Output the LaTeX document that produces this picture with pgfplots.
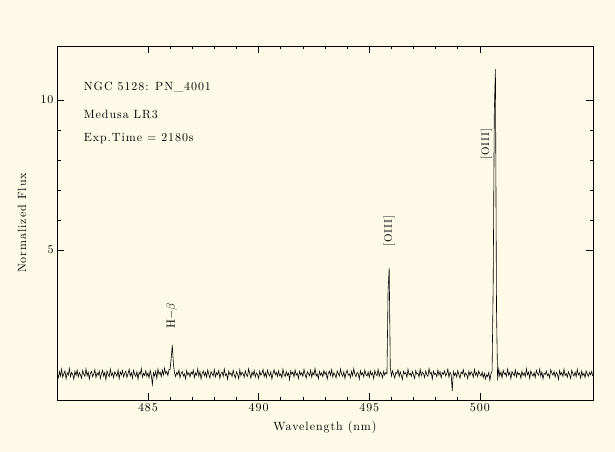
\documentclass[border=0pt]{standalone}
\usepackage{fontspec}
\setmainfont{lmroman10-regular.otf}[LetterSpace=8]
\usepackage{pgfplots}
\pgfplotsset{compat=1.18}
\definecolor{cream}{RGB}{253,251,231}
\newcommand\pgfnt{\fontsize{12}{14}\selectfont}
\newcommand\pgfsm{\fontsize{11}{13}\selectfont}
\begin{document}
\begin{tikzpicture}
\path[fill=cream] (0,0) rectangle (615bp,452bp);
\begin{axis}[
  scale only axis, width=536bp, height=354bp,
  at={(57bp,52bp)}, anchor=south west,
  xmin=480.89, xmax=505.11, ymin=0, ymax=11.8,
  xtick={485,490,495,500}, minor x tick num=4,
  ytick={5,10}, minor y tick num=4,
  tick align=inside,
  xtick pos=both, ytick pos=both,
  xticklabel pos=lower, yticklabel pos=left,
  major tick length=7bp, minor tick length=3.5bp,
  every tick/.style={black, line width=0.6pt},
  axis line style={line width=0.8pt},
  /pgf/number format/assume math mode=true,
  /pgf/number format/1000 sep={},
  tick label style={font=\pgfnt},
  label style={font=\pgfnt},
  xlabel={Wavelength (nm)}, ylabel={Normalized Flux},
  xlabel style={at={(axis description cs:0.5,-0.079)}, anchor=center},
  ylabel style={at={(axis description cs:-0.0653,0.5)}, anchor=center},
  axis background/.style={fill=cream},
]
\addplot[black, line width=0.6pt] coordinates {
(480.90,0.86)(480.95,0.74)
(481.00,0.95)(481.05,0.80)(481.10,1.02)(481.15,0.76)(481.20,0.88)(481.25,0.97)(481.30,0.71)(481.35,0.90)(481.40,0.83)(481.45,1.05)
(481.50,0.78)(481.55,0.92)(481.60,0.85)(481.65,0.69)(481.70,0.96)(481.75,0.82)(481.80,1.00)(481.85,0.77)(481.90,0.91)(481.95,0.84)
(482.00,0.73)(482.05,0.98)(482.10,0.86)(482.15,0.79)(482.20,1.04)(482.25,0.81)(482.30,0.93)(482.35,0.70)(482.40,0.89)(482.45,0.95)
(482.50,0.78)(482.55,0.87)(482.60,1.01)(482.65,0.75)(482.70,0.90)(482.75,0.83)(482.80,0.96)(482.85,0.72)(482.90,0.88)(482.95,0.99)
(483.00,0.80)(483.05,0.92)(483.10,0.68)(483.15,0.97)(483.20,0.85)(483.25,0.78)(483.30,1.03)(483.35,0.82)(483.40,0.90)(483.45,0.74)
(483.50,0.94)(483.55,0.87)(483.60,0.79)(483.65,1.00)(483.70,0.71)(483.75,0.93)(483.80,0.84)(483.85,0.98)(483.90,0.77)(483.95,0.89)
(484.00,0.96)(484.05,0.75)(484.10,0.88)(484.15,1.02)(484.20,0.80)(484.25,0.91)(484.30,0.73)(484.35,0.99)(484.40,0.85)(484.45,0.78)
(484.50,0.94)(484.55,0.70)(484.60,0.92)(484.65,0.86)(484.70,1.05)(484.75,0.76)(484.80,0.89)(484.85,0.82)(484.90,0.97)(484.95,0.79)
(485.00,0.90)(485.05,0.74)(485.10,0.98)(485.15,0.83)(485.20,0.52)(485.25,0.91)(485.30,0.80)(485.35,0.96)(485.40,0.72)(485.45,1.03)
(485.50,0.86)(485.55,0.93)(485.60,0.78)(485.65,0.99)(485.70,0.84)(485.75,1.06)(485.80,0.88)(485.85,0.95)(485.90,0.82)(485.95,1.01)
(486.00,1.02)(486.05,1.40)(486.10,1.83)(486.15,1.20)(486.20,0.90)(486.25,0.78)(486.30,0.92)(486.35,0.85)(486.40,1.00)(486.45,0.74)
(486.50,0.89)(486.55,0.95)(486.60,0.80)(486.65,0.87)(486.70,0.71)(486.75,0.98)(486.80,0.84)(486.85,0.91)(486.90,0.77)(486.95,0.93)
(487.00,0.86)(487.05,0.99)(487.10,0.75)(487.15,0.90)(487.20,0.83)(487.25,1.04)(487.30,0.79)(487.35,0.94)(487.40,0.70)(487.45,0.88)
(487.50,0.97)(487.55,0.81)(487.60,0.92)(487.65,0.76)(487.70,1.00)(487.75,0.85)(487.80,0.73)(487.85,0.95)(487.90,0.87)(487.95,0.80)
(488.00,1.01)(488.05,0.77)(488.10,0.91)(488.15,0.84)(488.20,0.98)(488.25,0.72)(488.30,0.89)(488.35,0.93)(488.40,0.79)(488.45,1.03)
(488.50,0.82)(488.55,0.87)(488.60,0.69)(488.65,0.96)(488.70,0.85)(488.75,0.90)(488.80,0.78)(488.85,0.99)(488.90,0.83)(488.95,0.74)
(489.00,0.94)(489.05,0.86)(489.10,0.71)(489.15,1.00)(489.20,0.81)(489.25,0.92)(489.30,0.88)(489.35,0.76)(489.40,0.97)(489.45,0.84)
(489.50,0.79)(489.55,1.04)(489.60,0.87)(489.65,0.73)(489.70,0.93)(489.75,0.82)(489.80,0.98)(489.85,0.77)(489.90,0.90)(489.95,0.85)
(490.00,0.72)(490.05,0.96)(490.10,0.83)(490.15,0.89)(490.20,1.02)(490.25,0.78)(490.30,0.91)(490.35,0.75)(490.40,0.99)(490.45,0.86)
(490.50,0.80)(490.55,0.94)(490.60,0.70)(490.65,0.88)(490.70,1.01)(490.75,0.84)(490.80,0.92)(490.85,0.79)(490.90,0.97)(490.95,0.81)
(491.00,0.87)(491.05,0.74)(491.10,1.03)(491.15,0.85)(491.20,0.78)(491.25,0.95)(491.30,0.82)(491.35,0.90)(491.40,0.68)(491.45,0.97)
(491.50,0.86)(491.55,0.93)(491.60,0.77)(491.65,1.00)(491.70,0.83)(491.75,0.89)(491.80,0.72)(491.85,0.96)(491.90,0.84)(491.95,0.91)
(492.00,0.79)(492.05,1.02)(492.10,0.85)(492.15,0.73)(492.20,0.94)(492.25,0.88)(492.30,0.81)(492.35,0.99)(492.40,0.76)(492.45,0.92)
(492.50,0.84)(492.55,1.05)(492.60,0.80)(492.65,0.87)(492.70,0.71)(492.75,0.95)(492.80,0.83)(492.85,0.90)(492.90,0.78)(492.95,0.98)
(493.00,0.85)(493.05,0.93)(493.10,0.70)(493.15,0.89)(493.20,0.96)(493.25,0.82)(493.30,1.01)(493.35,0.77)(493.40,0.91)(493.45,0.84)
(493.50,0.74)(493.55,0.97)(493.60,0.88)(493.65,0.80)(493.70,1.03)(493.75,0.86)(493.80,0.79)(493.85,0.94)(493.90,0.72)(493.95,0.90)
(494.00,0.99)(494.05,0.83)(494.10,0.87)(494.15,0.75)(494.20,0.95)(494.25,0.81)(494.30,1.04)(494.35,0.86)(494.40,0.78)(494.45,0.92)
(494.50,0.89)(494.55,0.70)(494.60,0.97)(494.65,0.84)(494.70,0.91)(494.75,0.77)(494.80,1.00)(494.85,0.85)(494.90,0.80)(494.95,0.93)
(495.00,0.76)(495.05,0.96)(495.10,0.84)(495.15,0.90)(495.20,0.71)(495.25,0.98)(495.30,0.86)(495.35,0.81)(495.40,1.02)(495.45,0.79)
(495.50,0.93)(495.55,0.87)(495.60,0.74)(495.65,0.95)(495.70,0.83)(495.75,0.91)(495.80,0.88)(495.85,3.63)(495.90,4.40)(495.95,1.10)
(496.00,0.80)(496.05,0.97)(496.10,0.85)(496.15,0.73)(496.20,0.92)(496.25,0.88)(496.30,1.01)(496.35,0.78)(496.40,0.94)(496.45,0.82)
(496.50,0.69)(496.55,0.96)(496.60,0.87)(496.65,0.91)(496.70,0.76)(496.75,1.03)(496.80,0.84)(496.85,0.89)(496.90,0.79)(496.95,0.95)
(497.00,0.83)(497.05,0.72)(497.10,0.98)(497.15,0.86)(497.20,0.90)(497.25,0.77)(497.30,1.02)(497.35,0.81)(497.40,0.93)(497.45,0.88)
(497.50,0.75)(497.55,0.97)(497.60,0.84)(497.65,0.79)(497.70,1.05)(497.75,0.87)(497.80,0.92)(497.85,0.70)(497.90,0.96)(497.95,0.85)
(498.00,0.89)(498.05,0.78)(498.10,1.00)(498.15,0.83)(498.20,0.94)(498.25,0.74)(498.30,0.91)(498.35,0.86)(498.40,0.97)(498.45,0.80)
(498.50,0.88)(498.55,1.03)(498.60,0.76)(498.65,0.92)(498.70,0.85)(498.75,0.30)(498.80,0.95)(498.85,0.82)(498.90,0.90)(498.95,0.77)
(499.00,0.98)(499.05,0.84)(499.10,0.73)(499.15,0.93)(499.20,0.87)(499.25,1.01)(499.30,0.79)(499.35,0.90)(499.40,0.85)(499.45,0.71)
(499.50,0.96)(499.55,0.82)(499.60,0.94)(499.65,0.88)(499.70,0.76)(499.75,1.02)(499.80,0.83)(499.85,0.91)(499.90,0.78)(499.95,0.97)
(500.00,0.86)(500.05,0.80)(500.10,0.93)(500.15,0.75)(500.20,0.89)(500.25,0.70)(500.30,0.84)(500.35,0.78)(500.40,0.92)(500.45,0.66)
(500.50,0.88)(500.55,0.97)(500.60,3.87)(500.65,9.57)(500.70,11.03)(500.75,3.00)(500.80,0.65)(500.85,1.04)(500.90,0.80)(500.95,0.93)
(501.00,0.74)(501.05,0.99)(501.10,0.86)(501.15,0.90)(501.20,0.79)(501.25,1.03)(501.30,0.83)(501.35,0.92)(501.40,0.71)(501.45,0.95)
(501.50,0.87)(501.55,0.81)(501.60,1.00)(501.65,0.77)(501.70,0.93)(501.75,0.85)(501.80,0.89)(501.85,0.73)(501.90,0.96)(501.95,0.82)
(502.00,0.90)(502.05,0.78)(502.10,1.04)(502.15,0.84)(502.20,0.93)(502.25,0.72)(502.30,0.97)(502.35,0.86)(502.40,0.80)(502.45,0.91)
(502.50,0.75)(502.55,0.99)(502.60,0.88)(502.65,0.83)(502.70,1.02)(502.75,0.79)(502.80,0.94)(502.85,0.70)(502.90,0.89)(502.95,0.85)
(503.00,0.96)(503.05,0.81)(503.10,0.87)(503.15,0.74)(503.20,1.01)(503.25,0.90)(503.30,0.83)(503.35,0.95)(503.40,0.77)(503.45,0.92)
(503.50,0.86)(503.55,0.69)(503.60,0.98)(503.65,0.84)(503.70,0.91)(503.75,0.79)(503.80,1.03)(503.85,0.82)(503.90,0.88)(503.95,0.76)
(504.00,0.94)(504.05,0.85)(504.10,0.72)(504.15,0.99)(504.20,0.87)(504.25,0.80)(504.30,0.93)(504.35,0.78)(504.40,1.02)(504.45,0.84)
(504.50,0.90)(504.55,0.73)(504.60,0.96)(504.65,0.81)(504.70,0.89)(504.75,0.75)(504.80,0.97)(504.85,0.86)(504.90,0.79)(504.95,0.92)
(505.00,0.84)(505.05,0.95)(505.10,0.80)
};
\node[anchor=west, font=\pgfnt] at (axis cs:481.94,10.43) {NGC 5128: PN\_4001};
\node[anchor=west, font=\pgfnt] at (axis cs:481.94,9.53) {Medusa LR3};
\node[anchor=west, font=\pgfnt] at (axis cs:481.94,8.73) {Exp.Time = 2180s};
\node[rotate=90, anchor=west, inner sep=0pt, font=\pgfnt] at (axis cs:486.08,2.37) {H$-\beta$};
\node[rotate=90, anchor=west, inner sep=0pt, font=\pgfsm] at (axis cs:495.90,5.1) {[OIII]};
\node[rotate=90, anchor=south west, inner sep=0pt, font=\pgfsm] at (axis cs:500.55,8.0) {[OIII]};
\end{axis}
\end{tikzpicture}
\end{document}
